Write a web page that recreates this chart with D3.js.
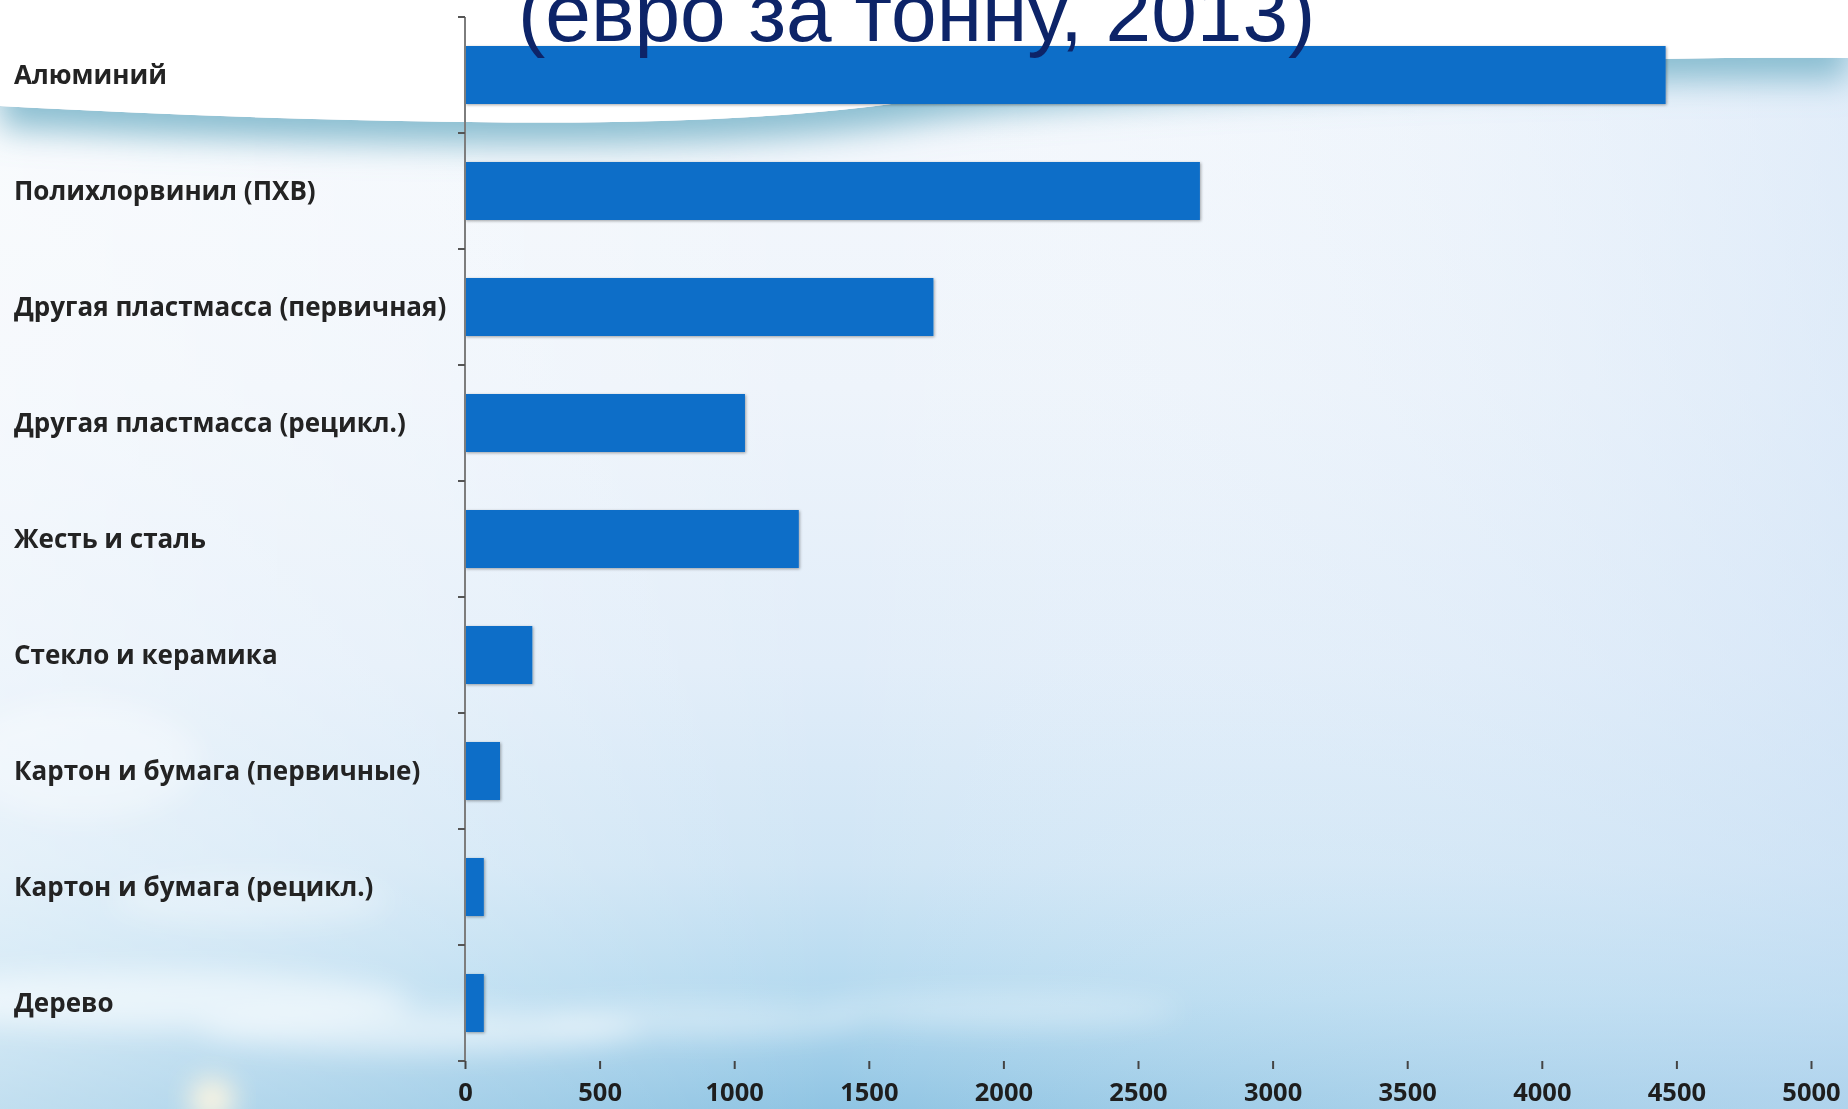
<!DOCTYPE html>
<html>
<head>
<meta charset="utf-8">
<script src="https://cdn.jsdelivr.net/npm/d3@7"></script>
<style>
  html, body { margin: 0; padding: 0; overflow: hidden; }
  svg { display: block; }
</style>
</head>
<body>
<div class="chart"></div>
<script>
// Chart values.
const categories = [
  "Алюминий",
  "Полихлорвинил (ПХВ)",
  "Другая пластмасса (первичная)",
  "Другая пластмасса (рецикл.)",
  "Жесть и сталь",
  "Стекло и керамика",
  "Картон и бумага (первичные)",
  "Картон и бумага (рецикл.)",
  "Дерево"
];
const values = [4460, 2730, 1740, 1040, 1240, 250, 130, 70, 70];
const xTicks = [0, 500, 1000, 1500, 2000, 2500, 3000, 3500, 4000, 4500, 5000];
const titleText = "(евро за тонну, 2013)";

const width = 1848;
const height = 1109;
// Plot area edges (the axes of the original slide).
const plot = { left: 465, right: 1811, top: 17, bottom: 1061 };

const svg = d3.select(".chart")
  .append("svg")
  .attr("width", width)
  .attr("height", height);

const defs = svg.append("defs");

// Background sky gradient, white at the top, blue at the bottom.
const sky = defs.append("linearGradient")
  .attr("id", "sky")
  .attr("x1", "0%").attr("x2", "0%")
  .attr("y1", "0%").attr("y2", "100%");
[["0%", "#f6f9fd"], ["35%", "#eef4fb"], ["60%", "#e1edf9"], ["78%", "#cfe5f5"],
 ["90%", "#b3d9ef"], ["100%", "#8fc4e3"]].forEach(([o, c]) =>
  sky.append("stop").attr("offset", o).attr("stop-color", c));

// Horizontal tint: the right side of the slide is a bit bluer.
const tint = defs.append("linearGradient")
  .attr("id", "tint")
  .attr("x1", "0%").attr("x2", "100%")
  .attr("y1", "0%").attr("y2", "0%");
tint.append("stop").attr("offset", "0%").attr("stop-color", "#ffffff").attr("stop-opacity", 0.45);
tint.append("stop").attr("offset", "45%").attr("stop-color", "#ffffff").attr("stop-opacity", 0);
tint.append("stop").attr("offset", "100%").attr("stop-color", "#cfe2f6").attr("stop-opacity", 0.5);

// Soft blur for the clouds.
defs.append("filter").attr("id", "cloudBlur")
  .attr("x", "-50%").attr("y", "-50%").attr("width", "200%").attr("height", "200%")
  .append("feGaussianBlur").attr("stdDeviation", 14);

// Teal shadow under the white wave.
const waveShadow = defs.append("filter").attr("id", "waveShadow")
  .attr("x", "-10%").attr("y", "-10%").attr("width", "120%").attr("height", "200%");
waveShadow.append("feDropShadow")
  .attr("dx", 0).attr("dy", 22)
  .attr("stdDeviation", 16)
  .attr("flood-color", "#7fb8cc")
  .attr("flood-opacity", 0.9);

// Small shadow for bars and axis lines.
const markShadow = defs.append("filter").attr("id", "markShadow")
  .attr("x", "-5%").attr("y", "-20%").attr("width", "110%").attr("height", "140%");
markShadow.append("feDropShadow")
  .attr("dx", 1).attr("dy", 1)
  .attr("stdDeviation", 1.5)
  .attr("flood-color", "#000000")
  .attr("flood-opacity", 0.35);

svg.append("rect")
  .attr("width", width).attr("height", height)
  .attr("fill", "url(#sky)");
svg.append("rect")
  .attr("width", width).attr("height", height)
  .attr("fill", "url(#tint)");

// A few clouds near the bottom left.
const clouds = svg.append("g").attr("filter", "url(#cloudBlur)");
[[150, 1000, 260, 30, 0.55], [420, 1030, 220, 22, 0.5], [700, 1020, 160, 18, 0.35],
 [80, 760, 120, 60, 0.35], [1000, 1010, 180, 18, 0.3], [250, 900, 140, 25, 0.3]]
  .forEach(([cx, cy, rx, ry, op]) => {
    clouds.append("ellipse")
      .attr("cx", cx).attr("cy", cy)
      .attr("rx", rx).attr("ry", ry)
      .attr("fill", "#ffffff")
      .attr("opacity", op);
  });
// Sun glow at the very bottom left.
svg.append("circle")
  .attr("cx", 212).attr("cy", 1100)
  .attr("r", 22)
  .attr("fill", "#fff6e0")
  .attr("filter", "url(#cloudBlur)");

// White wave at the top of the slide.
const wavePath = "M0,0 H1848 V58 C1600,56 1120,70 920,100 C780,121 620,124 470,122 C300,120 150,114 0,106 Z";
svg.append("path")
  .attr("d", wavePath)
  .attr("fill", "#ffffff")
  .attr("filter", "url(#waveShadow)");
svg.append("path")
  .attr("d", wavePath)
  .attr("fill", "#ffffff");

// Scales.
const x = d3.scaleLinear()
  .domain([0, 5000])
  .range([plot.left, plot.right]);

const y = d3.scaleBand()
  .domain(categories)
  .range([plot.top, plot.bottom])
  .paddingInner(0.5)
  .paddingOuter(0.25);

// Bars.
svg.append("g")
  .attr("filter", "url(#markShadow)")
  .selectAll(".bar")
  .data(categories)
  .enter()
  .append("rect")
  .attr("class", "bar")
  .attr("x", x(0))
  .attr("y", d => y(d))
  .attr("width", (d, i) => x(values[i]) - x(0))
  .attr("height", y.bandwidth())
  .attr("fill", "#116ec8");

// Vertical axis line with ticks between the categories.
const yAxis = svg.append("g");
yAxis.append("line")
  .attr("x1", x(0)).attr("x2", x(0))
  .attr("y1", plot.top).attr("y2", plot.bottom)
  .attr("stroke", "#7d7d7d")
  .attr("stroke-width", 2);
const bounds = categories.map(d => y(d) - y.step() * y.paddingInner() / 2);
bounds.push(plot.bottom);
yAxis.selectAll(".ytick")
  .data(bounds)
  .enter()
  .append("line")
  .attr("x1", x(0) - 7).attr("x2", x(0))
  .attr("y1", d => d).attr("y2", d => d)
  .attr("stroke", "#555555")
  .attr("stroke-width", 2);

// Category labels, left aligned at the slide edge.
svg.append("g")
  .selectAll(".label")
  .data(categories)
  .enter()
  .append("text")
  .attr("x", 14)
  .attr("y", d => y(d) + y.bandwidth() / 2)
  .attr("dy", "0.35em")
  .attr("font-family", "Open Sans")
  .attr("font-weight", 700)
  .attr("font-size", "26px")
  .attr("fill", "#232323")
  .text(d => d);

// Horizontal axis.
const xAxis = svg.append("g")
  .attr("transform", `translate(0,${plot.bottom})`)
  .call(d3.axisBottom(x).tickValues(xTicks).tickSize(8).tickSizeOuter(0).tickPadding(14)
    .tickFormat(d3.format("d")));
xAxis.select(".domain")
  .attr("stroke", "#6f7a80")
  .attr("stroke-width", 4)
  .attr("filter", "url(#markShadow)");
xAxis.selectAll(".tick line")
  .attr("stroke", "#444444")
  .attr("stroke-width", 2);
xAxis.selectAll(".tick text")
  .attr("font-family", "Open Sans")
  .attr("font-weight", 700)
  .attr("font-size", "25.5px")
  .attr("fill", "#1e1e1e");

// Title fragment cut off by the top of the slide.
svg.append("text")
  .attr("x", 518)
  .attr("y", 41)
  .attr("font-family", "Liberation Sans")
  .attr("font-size", "82px")
  .attr("fill", "#0d2468")
  .text(titleText);
</script>
</body>
</html>
